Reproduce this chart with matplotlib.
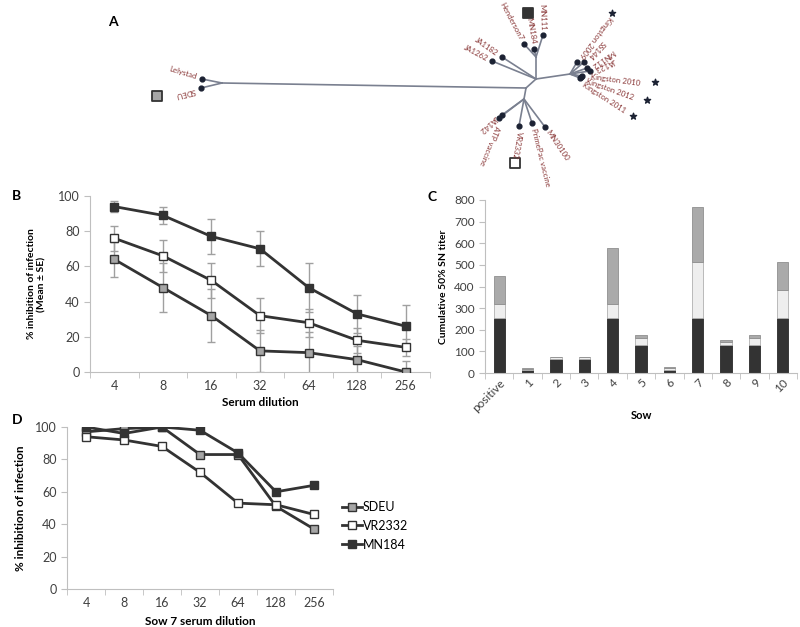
import numpy as np
import matplotlib
matplotlib.use("Agg")
import matplotlib.pyplot as plt

plt.rcParams["font.family"] = ["Lato", "DejaVu Sans"]

# ---------------------------------------------------------------- data
DILUTIONS = ["4", "8", "16", "32", "64", "128", "256"]

# B: % inhibition, mean and SE over sows
b_sdeu = [64, 48, 32, 12, 11, 7, 0]
b_sdeu_se = [10, 14, 15, 12, 12, 8, 6]
b_vr2332 = [76, 66, 52, 32, 28, 18, 14]
b_vr2332_se = [7, 9, 10, 10, 8, 7, 5]
b_mn184 = [94, 89, 77, 70, 48, 33, 26]
b_mn184_se = [3, 5, 10, 10, 14, 11, 12]

# C: stacked 50% SN titers per sow
SOWS = ["positive", "1", "2", "3", "4", "5", "6", "7", "8", "9", "10"]
c_mn184 = [256, 16, 64, 64, 256, 128, 16, 256, 128, 128, 256]
c_vr2332 = [64, 2, 8, 8, 64, 32, 8, 256, 16, 32, 128]
c_sdeu = [128, 4, 4, 4, 256, 16, 4, 256, 8, 16, 128]

# D: sow 7 serum
d_sdeu = [97, 99, 100, 83, 83, 51, 37]
d_vr2332 = [94, 92, 88, 72, 53, 52, 46]
d_mn184 = [100, 96, 100, 98, 84, 60, 64]

# A: tree layout (pixel space of the top strip)
tree_nodes = {
    "fork": (222, 83), "Lelystad": (202, 79), "SDEU": (201, 88),
    "root": (526, 88), "up": (536, 79), "low": (524, 99),
    "mn": (536, 57), "Henderson7": (524, 44), "MN184": (534, 49), "MN111": (543, 35),
    "JA1182": (502, 57), "JA1262": (492, 61),
    "right": (570, 74), "Kingston 2009": (577, 62), "SS144": (584, 62),
    "MN112": (587, 68), "JA123": (590, 71), "Kingston 2010": (582, 76),
    "Kingston 2012": (581, 77), "Kingston 2011": (580, 78),
    "JA142": (502, 115), "ATP vaccine": (499, 118), "VR2332": (519, 126),
    "PrimePac vaccine": (532, 123), "MN30100": (545, 127),
}
tree_edges = [
    ("fork", "Lelystad"), ("fork", "SDEU"), ("fork", "root"),
    ("root", "up"), ("root", "low"),
    ("up", "mn"), ("mn", "Henderson7"), ("mn", "MN184"), ("mn", "MN111"),
    ("up", "JA1182"), ("up", "JA1262"),
    ("up", "right"), ("right", "Kingston 2009"), ("right", "SS144"),
    ("right", "MN112"), ("right", "JA123"), ("right", "Kingston 2010"),
    ("right", "Kingston 2012"), ("right", "Kingston 2011"),
    ("low", "JA142"), ("low", "ATP vaccine"), ("low", "VR2332"),
    ("low", "PrimePac vaccine"), ("low", "MN30100"),
]
# label, anchor x, anchor y, rotation, ha
tree_labels = [
    ("Lelystad", 196, 77, -17, "right"), ("SDEU", 195, 90, 194, "left"),
    ("Henderson7", 521, 40, -62, "right"), ("MN184", 533, 44, -80, "right"),
    ("MN111", 543, 31, -88, "right"),
    ("JA1182", 497, 54, -35, "right"), ("JA1262", 487, 59, -28, "right"),
    ("Kingston 2009", 581, 57, 233, "right"), ("SS144", 589, 58, 228, "right"),
    ("MN112", 592, 66, 215, "right"), ("JA123", 595, 70, 205, "right"),
    ("Kingston 2010", 590, 77, -8, "left"), ("Kingston 2012", 586, 81, -20, "left"),
    ("Kingston 2011", 583, 84, -33, "left"),
    ("JA142", 497, 117, 222, "left"), ("ATP vaccine", 497, 126, 248, "left"),
    ("VR2332", 519, 131, -100, "left"), ("PrimePac vaccine", 533, 128, -76, "left"),
    ("MN30100", 547, 131, -56, "left"),
]
star_x = [612, 655, 647, 633]
star_y = [13, 82, 100, 116]
box_x = [157, 528, 515]
box_y = [96, 13, 163]
box_fc = ["#a6a6a6", "#333333", "white"]

DARK = "#333333"
GREY = "#a6a6a6"
LABEL = "#8b3a3a"
SPINE = "#bfbfbf"
TICK = "#404040"

fig = plt.figure(figsize=(8, 6.27), dpi=100)


def excel_axes(ax, n):
    for s in ["top", "right"]:
        ax.spines[s].set_visible(False)
    for s in ["left", "bottom"]:
        ax.spines[s].set_color(SPINE)
    ax.set_xlim(-0.5, n - 0.5)
    ax.set_xticks(range(n))
    ax.set_xticks(np.arange(-0.5, n, 1), minor=True)
    ax.tick_params(axis="x", which="major", length=0, pad=6)
    ax.tick_params(axis="x", which="minor", length=4, color=SPINE)
    ax.tick_params(axis="y", length=4, color=SPINE)
    ax.tick_params(labelcolor=TICK)


def lines(ax, series, errs=None):
    x = np.arange(len(DILUTIONS))
    styles = [("SDEU", GREY), ("VR2332", "white"), ("MN184", DARK)]
    for i, (y, (name, fc)) in enumerate(zip(series, styles)):
        if errs is not None:
            ax.errorbar(x, y, yerr=errs[i], fmt="none", ecolor="#a0a0a0",
                        elinewidth=1, capsize=3, zorder=1)
        ax.plot(x, y, color=DARK, lw=2, marker="s", ms=5.5, mfc=fc,
                mec=DARK, mew=1, label=name, zorder=3)


# ------------------------------------------------------------ panel A
axa = fig.add_axes([0, 1 - 190 / 627, 1, 190 / 627])
axa.set_xlim(0, 800); axa.set_ylim(190, 0); axa.axis("off")
for a, b in tree_edges:
    (x0, y0), (x1, y1) = tree_nodes[a], tree_nodes[b]
    axa.plot([x0, x1], [y0, y1], color="#7a8090", lw=1.2, zorder=1)
tips = [k for k in tree_nodes if k not in ("fork", "root", "up", "low", "mn", "right")]
axa.scatter([tree_nodes[k][0] for k in tips], [tree_nodes[k][1] for k in tips],
            s=12, color="#1c2233", zorder=3)
for txt, x, y, rot, ha in tree_labels:
    axa.text(x, y, txt, rotation=rot, ha=ha, va="center", rotation_mode="anchor",
             fontsize=5.6, color=LABEL)
axa.scatter(star_x, star_y, marker="*", s=22, color="#1c2233")
axa.scatter(box_x, box_y, marker="s", s=50, c=box_fc, edgecolors=DARK, linewidths=1.3)
fig.text(108 / 800, 1 - 22 / 627, "A", fontsize=10, fontweight="bold", va="center")

# ------------------------------------------------------------ panel B
axb = fig.add_axes([90 / 800, 1 - 372 / 627, 340 / 800, 176 / 627])
lines(axb, [b_sdeu, b_vr2332, b_mn184], [b_sdeu_se, b_vr2332_se, b_mn184_se])
excel_axes(axb, len(DILUTIONS))
axb.set_ylim(0, 100); axb.set_yticks(range(0, 101, 20))
axb.set_xticklabels(DILUTIONS, fontsize=9)
axb.tick_params(axis="y", labelsize=9)
axb.set_xlabel("Serum dilution", fontsize=8.5, fontweight="bold", labelpad=3)
axb.set_ylabel("% inhibition of infection\n(Mean ± SE)", fontsize=7.5,
               fontweight="bold", labelpad=8)
fig.text(12 / 800, 1 - 196 / 627, "B", fontsize=10, fontweight="bold", va="center")

# ------------------------------------------------------------ panel C
axc = fig.add_axes([485 / 800, 1 - 373 / 627, 312 / 800, 173 / 627])
xc = np.arange(len(SOWS))
bot2 = np.array(c_mn184) + np.array(c_vr2332)
axc.bar(xc, c_mn184, width=0.4, color=DARK, edgecolor="#2a2a2a", lw=0.6)
axc.bar(xc, c_vr2332, width=0.4, bottom=c_mn184, color="#eeeeee", edgecolor="#b0b0b0", lw=0.6)
axc.bar(xc, c_sdeu, width=0.4, bottom=bot2, color="#aaaaaa", edgecolor="#8f8f8f", lw=0.6)
excel_axes(axc, len(SOWS))
axc.set_ylim(0, 800); axc.set_yticks(range(0, 801, 100))
axc.set_xticklabels(SOWS, fontsize=8.5, rotation=45, ha="right", rotation_mode="anchor")
axc.tick_params(axis="x", which="major", pad=3)
axc.tick_params(axis="y", labelsize=8.5)
axc.set_xlabel("Sow", fontsize=8, fontweight="bold", labelpad=-3)
axc.set_ylabel("Cumulative 50% SN titer", fontsize=7.5, fontweight="bold", labelpad=4)
fig.text(428 / 800, 1 - 197 / 627, "C", fontsize=10, fontweight="bold", va="center")

# ------------------------------------------------------------ panel D
axd = fig.add_axes([67 / 800, 1 - 589 / 627, 266 / 800, 162 / 627])
lines(axd, [d_sdeu, d_vr2332, d_mn184])
excel_axes(axd, len(DILUTIONS))
axd.set_ylim(0, 100); axd.set_yticks(range(0, 101, 20))
axd.set_xticklabels(DILUTIONS, fontsize=9)
axd.tick_params(axis="y", labelsize=9)
axd.set_xlabel("Sow 7 serum dilution", fontsize=8.5, fontweight="bold", labelpad=5)
axd.set_ylabel("% inhibition of infection", fontsize=8.5, fontweight="bold", labelpad=6)
axd.legend(loc="center left", bbox_to_anchor=(1.0, 0.39), frameon=False,
           fontsize=9, handlelength=1.6, handletextpad=0.1, labelspacing=0.55,
           borderaxespad=0.3)
fig.text(12 / 800, 1 - 420 / 627, "D", fontsize=10, fontweight="bold", va="center")

fig.savefig("out.png", dpi=100)
